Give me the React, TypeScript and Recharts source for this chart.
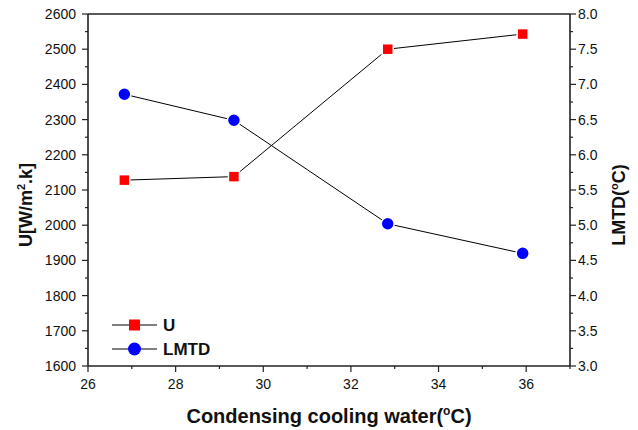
import React from "react";
import { ComposedChart, Line, XAxis, YAxis, ReferenceLine } from "recharts";

const waterTemp = [26.83, 29.33, 32.84, 35.92];
const uValues = [2128, 2138, 2500, 2543];
const lmtdValues = [6.86, 6.49, 5.02, 4.6];

const xTicks = [26, 27, 28, 29, 30, 31, 32, 33, 34, 35, 36, 37];
const leftTicks = [
  1600, 1650, 1700, 1750, 1800, 1850, 1900, 1950, 2000, 2050, 2100, 2150, 2200, 2250, 2300, 2350,
  2400, 2450, 2500, 2550, 2600,
];
const rightTicks = [
  3, 3.25, 3.5, 3.75, 4, 4.25, 4.5, 4.75, 5, 5.25, 5.5, 5.75, 6, 6.25, 6.5, 6.75, 7, 7.25, 7.5, 7.75, 8,
];

const data = waterTemp.map((t, i) => ({ t, u: uValues[i], lmtd: lmtdValues[i] }));

const FONT = "Arial, 'Liberation Sans', sans-serif";
const AXIS = "#222";

function XTick({ x, y, payload }: any) {
  const v = payload.value;
  const major = v % 2 === 0;
  return (
    <g>
      <line x1={x} x2={x} y1={y} y2={y + (major ? 6 : 3)} stroke={AXIS} strokeWidth={1.2} />
      {major && (
        <text x={x} y={y + 23} textAnchor="middle" fontSize={14} fontFamily={FONT} fill="#111">
          {v}
        </text>
      )}
    </g>
  );
}

function LeftTick({ x, y, payload }: any) {
  const v = payload.value;
  const major = v % 100 === 0;
  return (
    <g>
      <line x1={x} x2={x - (major ? 6 : 3)} y1={y} y2={y} stroke={AXIS} strokeWidth={1.2} />
      {major && (
        <text x={x - 12} y={y + 5} textAnchor="end" fontSize={14} fontFamily={FONT} fill="#111">
          {v}
        </text>
      )}
    </g>
  );
}

function RightTick({ x, y, payload }: any) {
  const v = payload.value;
  const major = Math.abs(v * 2 - Math.round(v * 2)) < 1e-6;
  return (
    <g>
      <line x1={x} x2={x + (major ? 6 : 3)} y1={y} y2={y} stroke={AXIS} strokeWidth={1.2} />
      {major && (
        <text x={x + 8} y={y + 5} textAnchor="start" fontSize={14} fontFamily={FONT} fill="#111">
          {v.toFixed(1)}
        </text>
      )}
    </g>
  );
}

function SquareDot({ cx, cy }: any) {
  if (cx == null || cy == null) return null;
  return <rect x={cx - 5.5} y={cy - 5.5} width={11} height={11} fill="#ff0000" stroke="#fff" strokeWidth={1.5} />;
}

function CircleDot({ cx, cy }: any) {
  if (cx == null || cy == null) return null;
  return <circle cx={cx} cy={cy} r={6.5} fill="#0000ff" stroke="#fff" strokeWidth={1.5} />;
}

function LegendBox() {
  const labelStyle = { fontFamily: FONT, fontSize: 17, fontWeight: 700, fill: "#111" };
  return (
    <svg width={140} height={70} style={{ position: "absolute", left: 106, top: 300 }}>
      <line x1={6} x2={51} y1={25} y2={25} stroke="#000" strokeWidth={1} />
      <rect x={23} y={19.5} width={11} height={11} fill="#ff0000" />
      <text x={57} y={31} {...labelStyle}>U</text>
      <line x1={6} x2={51} y1={49} y2={49} stroke="#000" strokeWidth={1} />
      <circle cx={28.5} cy={49} r={6.5} fill="#0000ff" />
      <text x={57} y={55} {...labelStyle}>LMTD</text>
    </svg>
  );
}

export default function App() {
  return (
    <div style={{ position: "absolute", left: 0, top: 0, width: 638, height: 430, background: "#fff" }}>
      <ComposedChart
        width={638}
        height={430}
        data={data}
        margin={{ top: 14, right: 8, bottom: 0, left: 0 }}
      >
        <XAxis
          dataKey="t"
          type="number"
          domain={[26, 37]}
          ticks={xTicks}
          interval={0}
          tick={<XTick />}
          tickSize={0}
          tickMargin={0}
          tickLine={false}
          axisLine={{ stroke: AXIS, strokeWidth: 1.6 }}
          height={64}
          label={{
            content: ({ viewBox }: any) => (
              <text
                x={viewBox.x + viewBox.width / 2}
                y={viewBox.y + 57}
                textAnchor="middle"
                fontFamily={FONT}
                fontSize={20}
                fontWeight={700}
                fill="#111"
              >
                Condensing cooling water(
                <tspan dy={-8} fontSize={12}>o</tspan>
                <tspan dy={8}>C)</tspan>
              </text>
            ),
          }}
        />
        <YAxis
          yAxisId="left"
          orientation="left"
          type="number"
          domain={[1600, 2600]}
          ticks={leftTicks}
          interval={0}
          tick={<LeftTick />}
          tickSize={0}
          tickMargin={0}
          tickLine={false}
          axisLine={{ stroke: AXIS, strokeWidth: 1.6 }}
          width={88}
          label={{
            content: ({ viewBox }: any) => {
              const cx = viewBox.x + 32;
              const cy = viewBox.y + viewBox.height / 2 + 15;
              return (
                <text
                  transform={`translate(${cx},${cy}) rotate(-90)`}
                  textAnchor="middle"
                  fontFamily={FONT}
                  fontSize={18}
                  fontWeight={700}
                  fill="#111"
                >
                  U[W/m
                  <tspan dy={-7} fontSize={11}>2</tspan>
                  <tspan dy={7}>.k]</tspan>
                </text>
              );
            },
          }}
        />
        <YAxis
          yAxisId="right"
          orientation="right"
          type="number"
          domain={[3, 8]}
          ticks={rightTicks}
          interval={0}
          tick={<RightTick />}
          tickSize={0}
          tickMargin={0}
          tickLine={false}
          axisLine={{ stroke: AXIS, strokeWidth: 1.6 }}
          width={60}
          label={{
            content: ({ viewBox }: any) => {
              const cx = viewBox.x + 55;
              const cy = viewBox.y + viewBox.height / 2 + 15;
              return (
                <text
                  transform={`translate(${cx},${cy}) rotate(-90)`}
                  textAnchor="middle"
                  fontFamily={FONT}
                  fontSize={18}
                  fontWeight={700}
                  fill="#111"
                >
                  LMTD(
                  <tspan dy={-7} fontSize={11}>o</tspan>
                  <tspan dy={7}>C)</tspan>
                </text>
              );
            },
          }}
        />
        <ReferenceLine yAxisId="left" y={2600} stroke={AXIS} strokeWidth={1.6} />
        <Line
          yAxisId="left"
          dataKey="u"
          type="linear"
          stroke="#000"
          strokeWidth={1}
          dot={<SquareDot />}
          activeDot={false}
          isAnimationActive={false}
        />
        <Line
          yAxisId="right"
          dataKey="lmtd"
          type="linear"
          stroke="#000"
          strokeWidth={1}
          dot={<CircleDot />}
          activeDot={false}
          isAnimationActive={false}
        />
      </ComposedChart>
      <LegendBox />
    </div>
  );
}
